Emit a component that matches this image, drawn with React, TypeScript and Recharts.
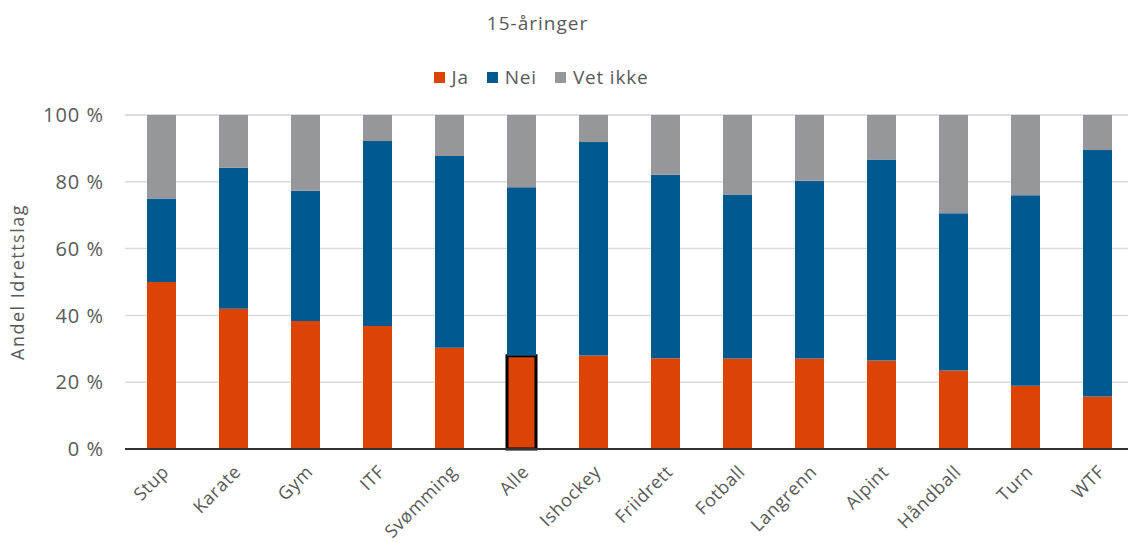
import { BarChart, Bar, XAxis, YAxis, CartesianGrid, Cell } from 'recharts';

const categories = ['Stup', 'Karate', 'Gym', 'ITF', 'Svømming', 'Alle', 'Ishockey', 'Friidrett', 'Fotball', 'Langrenn', 'Alpint', 'Håndball', 'Turn', 'WTF'];
const ja = [50, 42, 38.3, 36.8, 30.3, 27.9, 28, 27.2, 27.1, 27.1, 26.5, 23.5, 18.9, 15.7];
const nei = [25, 42.2, 39, 55.4, 57.4, 50.5, 63.9, 54.9, 49.1, 53.2, 60.2, 47.1, 57.1, 73.8];
const vetIkke = [25, 15.8, 22.7, 7.8, 12.3, 21.6, 8.1, 17.9, 23.8, 19.7, 13.3, 29.4, 24, 10.5];
const yTicks = [0, 20, 40, 60, 80, 100];
const highlighted = 'Alle';

const series = [
  { key: 'ja', name: 'Ja', color: '#DC4405' },
  { key: 'nei', name: 'Nei', color: '#005A8F' },
  { key: 'vetIkke', name: 'Vet ikke', color: '#96979A' },
];

const data = categories.map((name, i) => ({
  name,
  ja: ja[i],
  nei: nei[i],
  vetIkke: vetIkke[i],
}));

const font = '"Open Sans", sans-serif';
const textColor = '#595959';

export default function App() {
  return (
    <div
      style={{
        position: 'absolute',
        left: 0,
        top: 0,
        width: 1128,
        height: 542,
        overflow: 'hidden',
        background: '#fff',
        fontFamily: font,
      }}
    >
      <div
        style={{
          position: 'absolute',
          top: 10,
          left: 0,
          width: 1075,
          textAlign: 'center',
          fontSize: 19,
          letterSpacing: 1,
          color: textColor,
        }}
      >
        15-åringer
      </div>
      <div
        style={{
          position: 'absolute',
          top: 64,
          left: 0,
          width: 1082,
          display: 'flex',
          justifyContent: 'center',
          gap: 18,
          fontSize: 19,
          letterSpacing: 0.8,
          color: textColor,
        }}
      >
        {series.map((s) => (
          <div key={s.key} style={{ display: 'flex', alignItems: 'center', gap: 7 }}>
            <span style={{ width: 11, height: 11, background: s.color, display: 'inline-block' }} />
            <span>{s.name}</span>
          </div>
        ))}
      </div>
      <BarChart
        width={1133}
        height={542}
        data={data}
        margin={{ top: 115, right: 0, left: 0, bottom: 13 }}
        barSize={29}
      >
        <CartesianGrid vertical={false} stroke="#d9d9d9" strokeWidth={1.5} />
        <XAxis
          dataKey="name"
          interval={0}
          height={80}
          angle={-45}
          textAnchor="end"
          tickLine={false}
          axisLine={{ stroke: '#333', strokeWidth: 2 }}
          tick={{ fill: textColor, fontSize: 18, fontFamily: font, letterSpacing: 0.6 }}
          tickMargin={9}
        />
        <YAxis
          width={125}
          domain={[0, 100]}
          ticks={yTicks}
          tickFormatter={(v) => `${v} %`}
          tickLine={false}
          axisLine={false}
          tickSize={0}
          tickMargin={21}
          tick={{ fill: textColor, fontSize: 20, fontFamily: font, letterSpacing: 1 }}
          label={{
            value: 'Andel Idrettslag',
            angle: -90,
            position: 'insideLeft',
            offset: 18,
            style: { textAnchor: 'middle', fill: textColor, fontSize: 18, fontFamily: font, letterSpacing: 1.5 },
          }}
        />
        {series.map((s) => (
          <Bar key={s.key} dataKey={s.key} name={s.name} stackId="a" fill={s.color} isAnimationActive={false}>
            {s.key === 'ja' &&
              data.map((d) => (
                <Cell
                  key={d.name}
                  fill={s.color}
                  stroke={d.name === highlighted ? '#000' : 'none'}
                  strokeWidth={d.name === highlighted ? 3 : 0}
                />
              ))}
          </Bar>
        ))}
      </BarChart>
    </div>
  );
}
